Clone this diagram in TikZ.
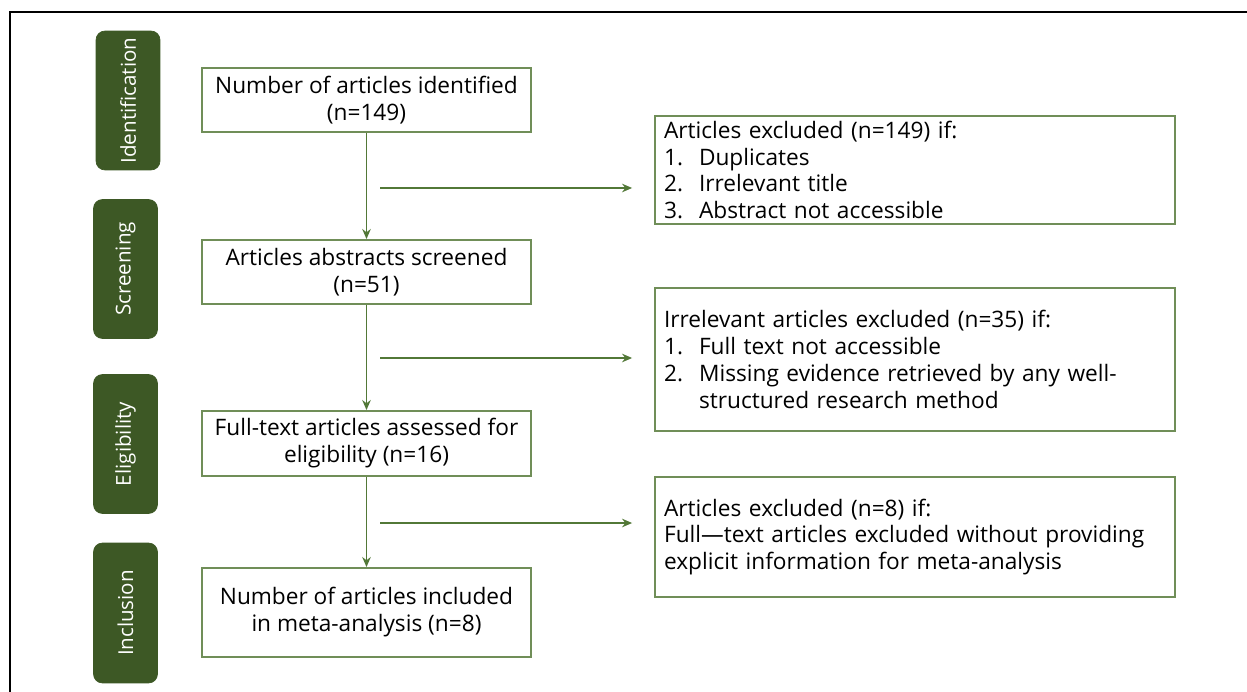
\documentclass[tikz,border=0pt]{standalone}
\usepackage{fontspec}
\setmainfont{Open Sans}
\usetikzlibrary{arrows.meta}
\definecolor{stagegreen}{RGB}{61,88,37}
\definecolor{boxgreen}{RGB}{112,142,88}
\definecolor{arrowgreen}{RGB}{82,120,55}
\newcommand\itm[1]{\makebox[0.7cm][l]{#1}}
\tikzset{
  stage/.style={fill=stagegreen, draw=stagegreen, rounded corners=0.18cm, minimum width=1.28cm, minimum height=2.78cm, text=white, inner sep=0pt},
  stagetext/.style={rotate=90, text=white, font=\fontsize{11.7}{13}\selectfont},
  mainbox/.style={draw=boxgreen, line width=1.1pt, minimum width=6.58cm, align=center, inner sep=0pt, font=\fontsize{12.9}{15.4}\selectfont},
  sidebox/.style={draw=boxgreen, line width=1.1pt, minimum width=10.4cm, text width=10.04cm, align=left, inner xsep=0.18cm, inner ysep=0pt, font=\fontsize{12.9}{15.3}\selectfont},
  arr/.style={draw=arrowgreen, line width=0.9pt, -{Stealth[length=0.2cm,width=0.17cm]}},
}
\begin{document}
\begin{tikzpicture}[x=0.02cm, y=-0.02cm]
\useasboundingbox (0,0) rectangle (1247,692);
\fill[white] (0,0) rectangle (1247,692);
% outer frame (cropped)
\draw[line width=1.3pt] (10,700) -- (10,12) -- (1260,12);
% stage labels
\node[stage] (s1) at (128,100.5) {};
\node[stagetext] (t1) at (s1.center) {Identification};
\node[stage] (s2) at (125.5,269) {};
\node[stagetext] (t2) at (s2.center) {Screening};
\node[stage] (s3) at (125.5,444) {};
\node[stagetext] (t3) at (s3.center) {Eligibility};
\node[stage, minimum height=2.8cm] (s4) at (125.5,613) {};
\node[stagetext] (t4) at (s4.center) {Inclusion};
% main boxes
\node[mainbox, minimum height=1.28cm] (b1) at (366.5,100) {Number of articles identified\\(n=149)};
\node[mainbox, minimum height=1.28cm] (b2) at (366.5,272) {Articles abstracts screened\\(n=51)};
\node[mainbox, minimum height=1.3cm] (b3) at (366.5,443.5) {Full-text articles assessed for\\eligibility (n=16)};
\node[mainbox, minimum height=1.78cm] (b4) at (366.5,612.5) {Number of articles included\\in meta-analysis (n=8)};
% side boxes
\node[sidebox, minimum height=2.16cm] (r1) at (915,170) {Articles excluded (n=149) if:\\\itm{1.}Duplicates\\\itm{2.}Irrelevant title\\\itm{3.}Abstract not accessible};
\node[sidebox, minimum height=2.86cm] (r2) at (915,359.5) {Irrelevant articles excluded (n=35) if:\\\itm{1.}Full text not accessible\\\mbox{\itm{2.}Missing evidence retrieved by any well-}\\\itm{}structured research method};
\node[sidebox, minimum height=2.4cm] (r3) at (915,537) {Articles excluded (n=8) if:\\\mbox{Full---text articles excluded without providing}\\explicit information for meta-analysis};
% vertical arrows
\draw[arr] (b1) -- (b2);
\draw[arr] (b2) -- (b3);
\draw[arr] (b3) -- (b4);
% horizontal arrows
\coordinate (h1) at (380,188);
\coordinate (h2) at (380,358);
\coordinate (h3) at (380,523);
\draw[arr, shorten >=0.44cm] (h1) -- (h1 -| r1.west);
\draw[arr, shorten >=0.44cm] (h2) -- (h2 -| r2.west);
\draw[arr, shorten >=0.44cm] (h3) -- (h3 -| r3.west);
\end{tikzpicture}
\end{document}
